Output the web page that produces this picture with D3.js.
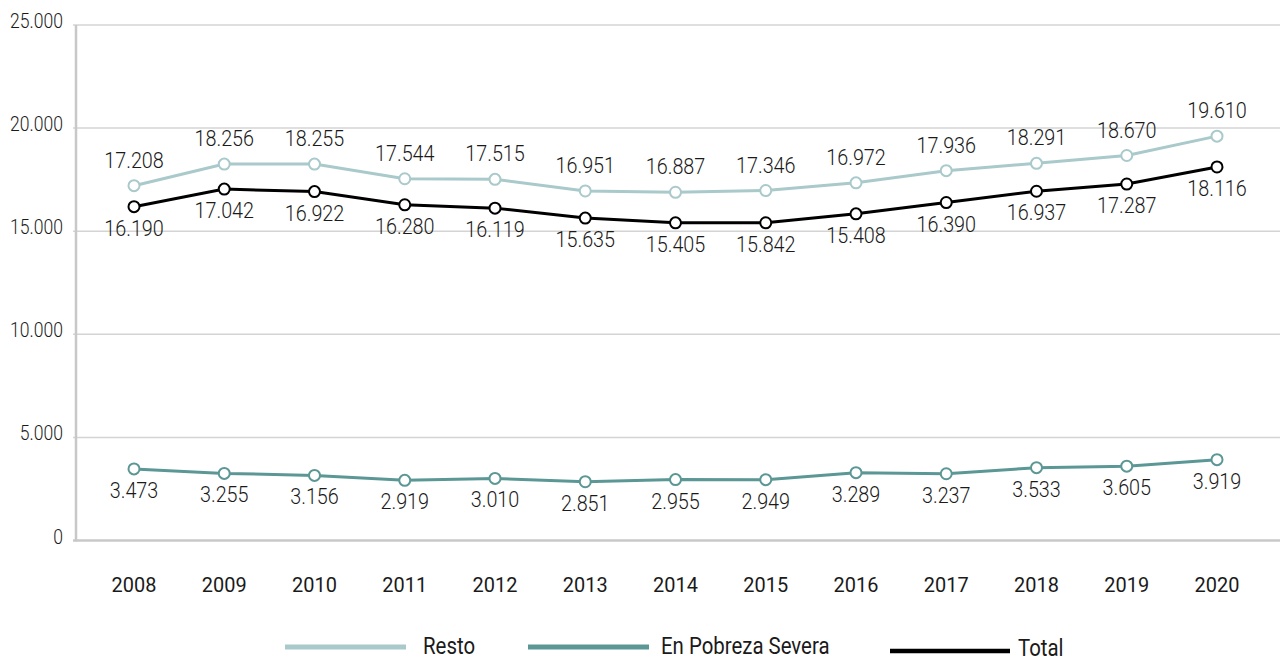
<!DOCTYPE html>
<html><head><meta charset="utf-8">
<script src="https://cdn.jsdelivr.net/npm/d3@7"></script>
<style>
html,body{margin:0;padding:0;background:#fff;}
svg{display:block;}
text{font-family:Roboto, "Noto Sans", sans-serif;fill:#1a1a1a;}
</style></head>
<body>
<svg id="chart" width="1280" height="660"></svg>
<script>
const years = [2008,2009,2010,2011,2012,2013,2014,2015,2016,2017,2018,2019,2020];
// values as drawn (positions)
const resto = [17208,18256,18255,17544,17515,16951,16887,16972,17346,17936,18291,18670,19610];
const pobreza = [3473,3255,3156,2919,3010,2851,2955,2949,3289,3237,3533,3605,3919];
const total = [16190,17042,16922,16280,16119,15635,15405,15408,15842,16390,16937,17287,18116];
// data labels as printed in the picture
const restoLabels = [17208,18256,18255,17544,17515,16951,16887,17346,16972,17936,18291,18670,19610];
const pobrezaLabels = [3473,3255,3156,2919,3010,2851,2955,2949,3289,3237,3533,3605,3919];
const totalLabels = [16190,17042,16922,16280,16119,15635,15405,15842,15408,16390,16937,17287,18116];
const yTicks = [0,5000,10000,15000,20000,25000];
const seriesNames = ["Resto","En Pobreza Severa","Total"];

const colors = {"Resto":"#a9c9cb","En Pobreza Severa":"#5b9795","Total":"#000000"};
const fmt = v => d3.format(",")(v).replace(/,/g,".");

const svg = d3.select("#chart");
const x = d3.scalePoint().domain(years).range([134,1217]);
const y = d3.scaleLinear().domain([0,25000]).range([540.5,25]);

function stext(g, str, px, py, size, sx, anchor, weight){
  return g.append("text")
    .attr("transform",`translate(${px},${py}) scale(${sx},1)`)
    .attr("text-anchor",anchor)
    .attr("font-size",size)
    .attr("font-weight",weight)
    .text(str);
}

// grid
const grid = svg.append("g");
yTicks.forEach(t=>{
  grid.append("line")
    .attr("x1",73).attr("x2",1280)
    .attr("y1",y(t)).attr("y2",y(t))
    .attr("stroke",t===0?"#c8c8c8":"#d4d4d4")
    .attr("stroke-width",t===0?2.5:1.5);
  stext(grid, fmt(t), 63, y(t)+3, 19.5, 0.9, "end", 300);
});
grid.append("line").attr("x1",76).attr("x2",76).attr("y1",y(25000)).attr("y2",y(0)+1)
  .attr("stroke","#c8c8c8").attr("stroke-width",2.5);

// x labels
const xg = svg.append("g");
years.forEach(yr=>{
  stext(xg, String(yr), x(yr), 591.5, 21, 0.95, "middle", 400);
});

const series = [
  {name:"Resto", values:resto, labels:restoLabels, dy:-18},
  {name:"Total", values:total, labels:totalLabels, dy:29},
  {name:"En Pobreza Severa", values:pobreza, labels:pobrezaLabels, dy:29}
];
const line = d3.line().x((d,i)=>x(years[i])).y(d=>y(d));

series.forEach(s=>{
  const g = svg.append("g");
  g.append("path").datum(s.values).attr("d",line)
    .attr("fill","none").attr("stroke",colors[s.name]).attr("stroke-width",3);
  g.selectAll("circle").data(s.values).join("circle")
    .attr("cx",(d,i)=>x(years[i])).attr("cy",d=>y(d)).attr("r",5.5)
    .attr("fill","#fff").attr("stroke",colors[s.name]).attr("stroke-width",2);
  s.values.forEach((v,i)=>{
    stext(g, fmt(s.labels[i]), x(years[i]), y(v)+s.dy, 22, 0.9, "middle", 300);
  });
});

// legend
const legend = [
  {name:"Resto", x1:285, x2:406, ly:647, tx:423, ty:654},
  {name:"En Pobreza Severa", x1:528, x2:649, ly:647, tx:661, ty:654},
  {name:"Total", x1:890, x2:1010, ly:651, tx:1018, ty:656}
];
const lg = svg.append("g");
legend.forEach(l=>{
  lg.append("line").attr("x1",l.x1).attr("x2",l.x2).attr("y1",l.ly).attr("y2",l.ly)
    .attr("stroke",colors[l.name]).attr("stroke-width",l.name==="Total"?4.5:5);
  stext(lg, l.name, l.tx, l.ty, 24, 0.85, "start", 400);
});
</script>
</body></html>
